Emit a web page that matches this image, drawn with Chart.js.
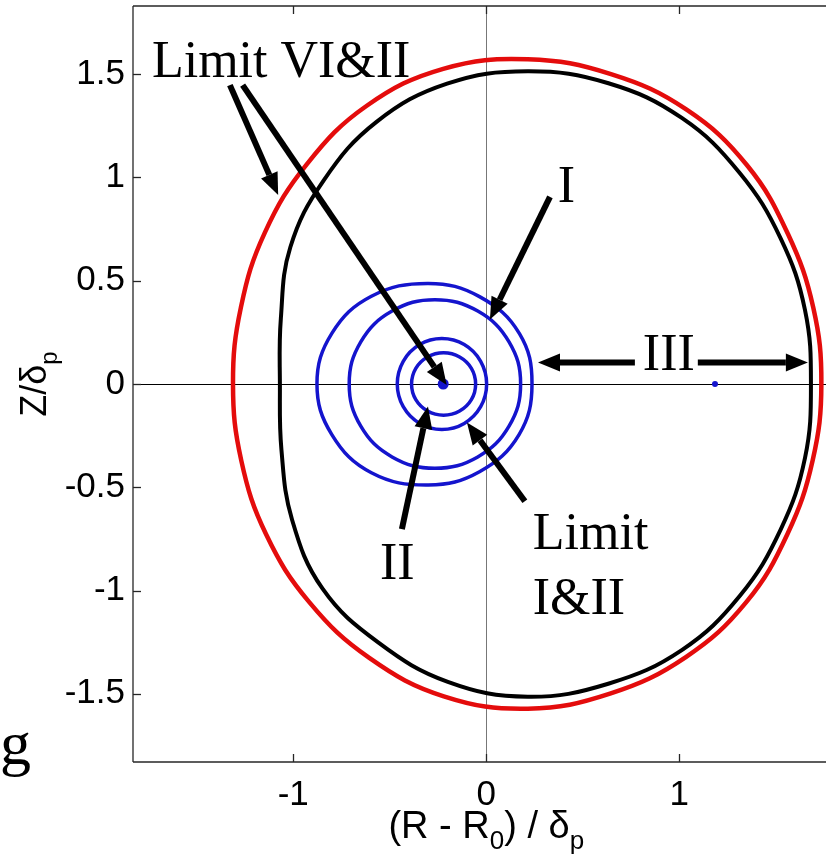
<!DOCTYPE html>
<html>
<head>
<meta charset="utf-8">
<script src="https://cdn.jsdelivr.net/npm/chart.js@4.4.0/dist/chart.umd.min.js"></script>
<style>
  html, body { margin: 0; padding: 0; background: #fff; }
  #wrap { width: 826px; height: 867px; }
</style>
</head>
<body>
<div id="wrap"><canvas id="plano" width="826" height="867"></canvas></div>
<script>
// Límites de ejes y marcas
const xMin = -1.83, xMax = 1.76;
const yMin = -1.83, yMax = 1.83;
const xTicks = [-1, 0, 1];
const xTickLabels = ['-1', '0', '1'];
const yTicks = [-1.5, -1, -0.5, 0, 0.5, 1, 1.5];
const yTickLabels = ['-1.5', '-1', '-0.5', '0', '0.5', '1', '1.5'];

// Curva roja (exterior), contorno cerrado
const rojaX = [1.736, 1.694, 1.563, 1.351, 1.038, 0.646, 0.215, -0.223, -0.619, -0.928, -1.147, -1.271, -1.312,
               -1.269, -1.140, -0.917, -0.606, -0.220, 0.215, 0.645, 1.034, 1.347, 1.561, 1.691];
const rojaY = [0, 0.370, 0.726, 1.059, 1.328, 1.500, 1.572, 1.526, 1.347, 1.066, 0.733, 0.371, 0,
               -0.371, -0.729, -1.056, -1.326, -1.512, -1.572, -1.498, -1.322, -1.056, -0.725, -0.369];

// Curva negra
const negroX = [1.682, 1.651, 1.525, 1.312, 1.013, 0.633, 0.215, -0.203, -0.570, -0.842, -1.015, -1.064, -1.069,
                -1.061, -1.006, -0.848, -0.560, -0.199, 0.215, 0.632, 1.013, 1.314, 1.525, 1.651];
const negroY = [0, 0.359, 0.705, 1.023, 1.288, 1.456, 1.514, 1.454, 1.268, 0.986, 0.662, 0.319, 0,
                -0.319, -0.657, -0.991, -1.251, -1.442, -1.514, -1.451, -1.288, -1.025, -0.705, -0.359];

// Órbitas azules
const anillo1X = [0.237, 0.172, -0.035, -0.300, -0.595, -0.800, -0.877, -0.800, -0.595, -0.300, -0.035, 0.170];
const anillo1Y = [0, 0.244, 0.423, 0.487, 0.425, 0.245, 0, -0.245, -0.430, -0.489, -0.425, -0.245];
const anillo2X = [0.178, 0.118, -0.044, -0.266, -0.488, -0.650, -0.710, -0.650, -0.488, -0.266, -0.044, 0.118];
const anillo2Y = [0, 0.204, 0.353, 0.408, 0.353, 0.204, 0, -0.204, -0.353, -0.408, -0.353, -0.204];
const anillo3X = [0.002, -0.029, -0.114, -0.230, -0.345, -0.430, -0.461, -0.430, -0.345, -0.230, -0.114, -0.029];
const anillo3Y = [0, 0.110, 0.191, 0.220, 0.191, 0.110, 0, -0.110, -0.191, -0.220, -0.191, -0.110];
const anillo4X = [-0.055, -0.077, -0.138, -0.221, -0.304, -0.365, -0.387, -0.365, -0.304, -0.221, -0.138, -0.077];
const anillo4Y = [0, 0.076, 0.131, 0.151, 0.131, 0.076, 0, -0.076, -0.131, -0.151, -0.131, -0.076];

// Puntos fijos
const centroX = [-0.223], centroY = [0];
const puntoX = [1.185], puntoY = [0];

// Flechas y textos (coordenadas de datos)
const flechas = [
    { de: [-1.328, 1.447], a: [-1.078, 0.915] },
    { de: [-1.262, 1.447], a: [-0.205, -0.005] },
    { de: [0.33, 0.906], a: [0.019, 0.312] },
    { de: [0.77, 0.104], a: [0.268, 0.104] },
    { de: [1.096, 0.104], a: [1.666, 0.104] },
    { de: [-0.437, -0.703], a: [-0.302, -0.109] },
    { de: [0.2, -0.568], a: [-0.1, -0.186] }
];
const notas = [
    { texto: 'Limit VI&II', x: -1.732, y: 1.486 },
    { texto: 'I', x: 0.37, y: 0.882 },
    { texto: 'III', x: 0.811, y: 0.07 },
    { texto: 'II', x: -0.551, y: -0.944 },
    { texto: 'Limit', x: 0.241, y: -0.8 },
    { texto: 'I&II', x: 0.241, y: -1.114 }
];

const zip = (xs, ys) => xs.map((v, i) => ({ x: v, y: ys[i] }));

function curva(xs, ys, color, ancho) {
    return {
        data: zip(xs, ys),
        showLine: true,
        cerrada: true,
        spanGaps: true,
        borderColor: color,
        borderWidth: ancho,
        pointRadius: 0,
        tension: 0.4,
        fill: false
    };
}

const azul = 'rgb(20,20,205)';
const rojo = 'rgb(228,12,12)';

function linea(ctx, x1, y1, x2, y2) {
    ctx.beginPath();
    ctx.moveTo(x1, y1);
    ctx.lineTo(x2, y2);
    ctx.stroke();
}

function flecha(ctx, x1, y1, x2, y2) {
    const ang = Math.atan2(y2 - y1, x2 - x1);
    const largo = 22, medio = 9;
    const bx = x2 - largo * Math.cos(ang), by = y2 - largo * Math.sin(ang);
    ctx.lineWidth = 6;
    ctx.lineCap = 'butt';
    linea(ctx, x1, y1, bx, by);
    ctx.beginPath();
    ctx.moveTo(x2, y2);
    ctx.lineTo(bx + medio * Math.sin(ang), by - medio * Math.cos(ang));
    ctx.lineTo(bx - medio * Math.sin(ang), by + medio * Math.cos(ang));
    ctx.closePath();
    ctx.fill();
}

// texto con subíndices, centrado en (0,0) del contexto
function textoSub(ctx, partes, size, base) {
    const normal = size + 'px "Liberation Sans", Arial, sans-serif';
    const chico = Math.round(size * 0.68) + 'px "Liberation Sans", Arial, sans-serif';
    let total = 0;
    partes.forEach(p => {
        ctx.font = p.sub ? chico : normal;
        p.w = ctx.measureText(p.t).width;
        total += p.w;
    });
    let x = -total / 2;
    ctx.textAlign = 'left';
    ctx.textBaseline = 'alphabetic';
    partes.forEach(p => {
        ctx.font = p.sub ? chico : normal;
        ctx.fillText(p.t, x, p.sub ? base + size * 0.3 : base);
        x += p.w;
    });
}

// las curvas son contornos cerrados: el último punto enlaza con el primero
const cierre = {
    id: 'cierre',
    afterDatasetUpdate(chart, args) {
        const ds = chart.data.datasets[args.index];
        const linea = args.meta.dataset;
        if (ds.cerrada && linea) {
            linea._loop = true;
            linea._pointsUpdated = false;
            delete linea._segments;
            delete linea._path;
        }
    }
};

const marco = {
    id: 'marco',
    beforeDatasetsDraw(chart) {
        const { ctx, chartArea: a, scales: { x, y } } = chart;
        ctx.save();
        // rectas por el origen
        ctx.lineWidth = 1;
        ctx.strokeStyle = '#000';
        const y0 = Math.round(y.getPixelForValue(0)) + 0.5;
        linea(ctx, a.left, y0, a.right, y0);
        ctx.strokeStyle = '#777';
        const x0 = Math.round(x.getPixelForValue(0)) + 0.5;
        linea(ctx, x0, a.top, x0, a.bottom);
        // caja y marcas hacia dentro
        ctx.strokeStyle = '#262626';
        ctx.lineWidth = 1.3;
        linea(ctx, a.left, a.top, a.right, a.top);
        linea(ctx, a.left, a.top, a.left, a.bottom);
        linea(ctx, a.left, a.bottom, a.right, a.bottom);
        xTicks.forEach(v => {
            const px = Math.round(x.getPixelForValue(v)) + 0.5;
            linea(ctx, px, a.bottom, px, a.bottom - 8);
            linea(ctx, px, a.top, px, a.top + 8);
        });
        yTicks.forEach(v => {
            const py = Math.round(y.getPixelForValue(v)) + 0.5;
            linea(ctx, a.left, py, a.left + 8, py);
        });
        ctx.restore();
    },
    afterDatasetsDraw(chart) {
        const { ctx, scales: { x, y } } = chart;
        ctx.save();
        ctx.fillStyle = '#000';
        ctx.strokeStyle = '#000';
        flechas.forEach(f => {
            flecha(ctx, x.getPixelForValue(f.de[0]), y.getPixelForValue(f.de[1]),
                   x.getPixelForValue(f.a[0]), y.getPixelForValue(f.a[1]));
        });
        ctx.font = '52px "Liberation Serif", "Times New Roman", serif';
        ctx.textAlign = 'left';
        ctx.textBaseline = 'alphabetic';
        notas.forEach(n => ctx.fillText(n.texto, x.getPixelForValue(n.x), y.getPixelForValue(n.y)));
        ctx.restore();
    },
    afterDraw(chart) {
        const { ctx, chartArea: a, scales: { x } } = chart;
        ctx.save();
        ctx.fillStyle = '#000';
        // título eje x
        ctx.translate(x.getPixelForValue(0), 838);
        textoSub(ctx, [{ t: '(R - R' }, { t: '0', sub: true }, { t: ') / \u03b4' }, { t: 'p', sub: true }], 38, 0);
        ctx.restore();
        ctx.save();
        ctx.fillStyle = '#000';
        ctx.translate(46, (a.top + a.bottom) / 2);
        ctx.rotate(-Math.PI / 2);
        textoSub(ctx, [{ t: 'Z/\u03b4' }, { t: 'p', sub: true }], 36, 0);
        ctx.restore();
        // letra del panel
        ctx.save();
        ctx.fillStyle = '#000';
        ctx.font = '62px "Liberation Serif", "Times New Roman", serif';
        ctx.textAlign = 'left';
        ctx.fillText('g', 0, 764);
        ctx.restore();
    }
};

const fuenteTicks = { family: '"Liberation Sans", Arial, sans-serif', size: 35 };

new Chart(document.getElementById('plano'), {
    type: 'scatter',
    data: {
        datasets: [
            curva(rojaX, rojaY, rojo, 4.5),
            curva(negroX, negroY, '#000', 4),
            curva(anillo1X, anillo1Y, azul, 3.5),
            curva(anillo2X, anillo2Y, azul, 3.5),
            curva(anillo3X, anillo3Y, azul, 3.5),
            curva(anillo4X, anillo4Y, azul, 3.5),
            { data: zip(centroX, centroY), pointRadius: 5.5, pointBackgroundColor: azul, pointBorderWidth: 0 },
            { data: zip(puntoX, puntoY), pointRadius: 3, pointBackgroundColor: azul, pointBorderWidth: 0 }
        ]
    },
    options: {
        responsive: false,
        animation: false,
        layout: { autoPadding: false, padding: { top: 6, right: 0, left: 0, bottom: 0 } },
        plugins: { legend: { display: false }, tooltip: { enabled: false } },
        scales: {
            x: {
                type: 'linear',
                min: xMin,
                max: xMax,
                grid: { display: false, drawTicks: false },
                border: { display: false },
                afterBuildTicks: s => { s.ticks = xTicks.map(v => ({ value: v })); },
                afterFit: s => { s.height = 105; s.paddingLeft = 0; s.paddingRight = 0; },
                ticks: {
                    color: '#000',
                    font: fuenteTicks,
                    padding: 12,
                    maxRotation: 0,
                    callback: v => xTickLabels[xTicks.indexOf(v)]
                }
            },
            y: {
                type: 'linear',
                min: yMin,
                max: yMax,
                grid: { display: false, drawTicks: false },
                border: { display: false },
                afterBuildTicks: s => { s.ticks = yTicks.map(v => ({ value: v })); },
                afterFit: s => { s.width = 133; s.paddingTop = 0; s.paddingBottom = 0; },
                ticks: {
                    color: '#000',
                    font: fuenteTicks,
                    padding: 8,
                    callback: v => yTickLabels[yTicks.indexOf(v)]
                }
            }
        }
    },
    plugins: [cierre, marco]
});
</script>
</body>
</html>
